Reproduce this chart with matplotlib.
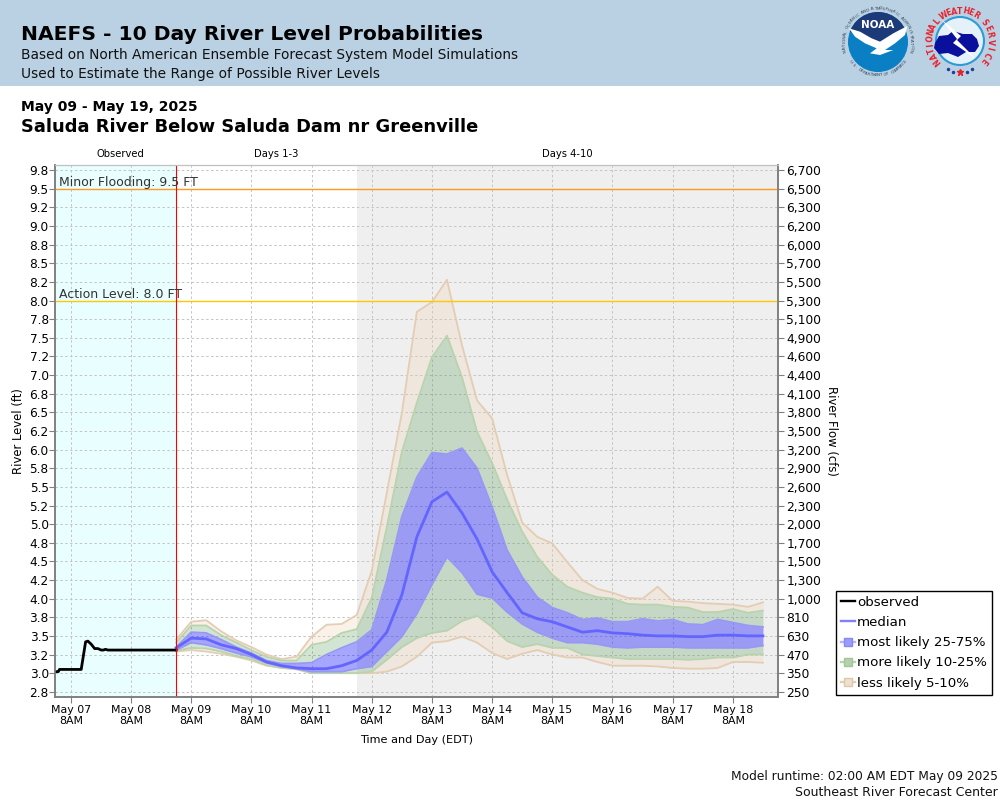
import numpy as np
from matplotlib import pyplot as plt
from matplotlib.lines import Line2D
from matplotlib.patches import Circle, Polygon, Rectangle

# hours after May 07 8AM
obs_hours = [-6.1, -5, -4.5, 4.15, 5.9, 6.8, 8.1, 9.5, 10.8, 12.1, 13, 13.8, 14.8, 42]
obs_level = [3.02, 3.02, 3.05, 3.05, 3.42, 3.43, 3.39, 3.33, 3.33, 3.31, 3.31, 3.32, 3.31, 3.31]

fc_hours = list(range(42, 277, 6))
p95 = [3.45, 3.69, 3.71, 3.56, 3.44, 3.35, 3.25, 3.19, 3.22, 3.49, 3.65, 3.66, 3.78, 4.37, 5.42, 6.49, 7.85, 7.98, 8.28, 7.40,
       6.66, 6.42, 5.66, 5.02, 4.83, 4.74, 4.49, 4.25, 4.13, 4.08, 4.01, 4.00, 4.16, 3.97, 3.96, 3.94, 3.93, 3.92, 3.89, 3.95]
p90 = [3.41, 3.64, 3.64, 3.51, 3.41, 3.31, 3.22, 3.17, 3.17, 3.38, 3.42, 3.54, 3.59, 4.01, 4.96, 5.97, 6.63, 7.24, 7.53, 6.97,
       6.24, 5.82, 5.33, 4.90, 4.56, 4.32, 4.16, 4.08, 4.02, 4.00, 3.93, 3.92, 3.92, 3.89, 3.88, 3.82, 3.82, 3.86, 3.81, 3.84]
p75 = [3.35, 3.55, 3.54, 3.45, 3.35, 3.27, 3.17, 3.13, 3.13, 3.14, 3.25, 3.34, 3.42, 3.58, 4.25, 5.10, 5.63, 5.96, 5.94, 6.02,
       5.75, 5.23, 4.65, 4.29, 4.02, 3.88, 3.81, 3.72, 3.74, 3.69, 3.69, 3.73, 3.70, 3.72, 3.66, 3.65, 3.72, 3.68, 3.64, 3.62]
median = [3.34, 3.47, 3.46, 3.38, 3.33, 3.25, 3.15, 3.10, 3.07, 3.06, 3.06, 3.10, 3.17, 3.31, 3.55, 4.05, 4.83, 5.30, 5.43, 5.15,
          4.80, 4.36, 4.08, 3.81, 3.73, 3.69, 3.62, 3.55, 3.57, 3.54, 3.53, 3.51, 3.50, 3.50, 3.49, 3.49, 3.51, 3.51, 3.50, 3.50]
p25 = [3.31, 3.41, 3.38, 3.33, 3.27, 3.22, 3.14, 3.09, 3.06, 3.02, 3.02, 3.02, 3.06, 3.09, 3.29, 3.49, 3.80, 4.19, 4.56, 4.35,
       4.06, 4.01, 3.82, 3.66, 3.55, 3.47, 3.41, 3.41, 3.39, 3.35, 3.34, 3.35, 3.35, 3.35, 3.34, 3.34, 3.34, 3.34, 3.34, 3.37]
p10 = [3.30, 3.34, 3.33, 3.29, 3.23, 3.19, 3.11, 3.07, 3.06, 3.00, 3.00, 3.00, 3.00, 3.02, 3.18, 3.35, 3.47, 3.54, 3.57, 3.70,
       3.77, 3.62, 3.43, 3.35, 3.39, 3.34, 3.34, 3.25, 3.23, 3.21, 3.19, 3.19, 3.19, 3.19, 3.18, 3.19, 3.21, 3.21, 3.25, 3.25]
p5 = [3.29, 3.31, 3.29, 3.26, 3.22, 3.17, 3.10, 3.07, 3.05, 3.00, 3.00, 3.00, 3.00, 3.00, 3.02, 3.09, 3.22, 3.41, 3.43, 3.49,
      3.41, 3.27, 3.19, 3.26, 3.31, 3.25, 3.21, 3.21, 3.15, 3.10, 3.10, 3.10, 3.09, 3.07, 3.06, 3.06, 3.07, 3.15, 3.15, 3.14]

level_ticks = [2.75, 3.0, 3.25, 3.5, 3.75, 4.0, 4.25, 4.5, 4.75, 5.0, 5.25, 5.5, 5.75, 6.0, 6.25, 6.5, 6.75, 7.0, 7.25, 7.5,
               7.75, 8.0, 8.25, 8.5, 8.75, 9.0, 9.25, 9.5, 9.75]
level_labels = ["2.8", "3.0", "3.2", "3.5", "3.8", "4.0", "4.2", "4.5", "4.8", "5.0", "5.2", "5.5", "5.8", "6.0", "6.2", "6.5",
                "6.8", "7.0", "7.2", "7.5", "7.8", "8.0", "8.2", "8.5", "8.8", "9.0", "9.2", "9.5", "9.8"]
flow_labels = ["250", "350", "470", "630", "810", "1,000", "1,300", "1,500", "1,700", "2,000", "2,300", "2,600", "2,900",
               "3,200", "3,500", "3,800", "4,100", "4,400", "4,600", "4,900", "5,100", "5,300", "5,500", "5,700", "6,000",
               "6,200", "6,300", "6,500", "6,700"]
day_hours = [0, 24, 48, 72, 96, 120, 144, 168, 192, 216, 240, 264]
day_labels = ["May 07\n8AM", "May 08\n8AM", "May 09\n8AM", "May 10\n8AM", "May 11\n8AM", "May 12\n8AM",
              "May 13\n8AM", "May 14\n8AM", "May 15\n8AM", "May 16\n8AM", "May 17\n8AM", "May 18\n8AM"]

BLUE = "#0000ff"
GREEN = "#207f20"
TAN = "#efcfab"
EDGE_BLUE = "#9898f4"
EDGE_GREEN = "#b9d3ae"
EDGE_TAN = "#e3cdb3"

fig = plt.figure(figsize=(10, 8), dpi=100)

# chart
ax = fig.add_axes([0.055, 1 - 697 / 800, 0.723, 532 / 800])
ax.set_xlim(-6.3, 282)
ax.set_ylim(2.68, 9.82)
ax.axvspan(-6.3, 42, color="#e9ffff", lw=0, zorder=0)
ax.axvspan(114, 282, color="#efefef", lw=0, zorder=0)
ax.grid(True, color="#c4c4c4", ls=(0, (2.5, 2.5)), lw=0.7, zorder=1)
ax.set_axisbelow(True)

ax.fill_between(fc_hours, p90, p95, color=TAN, alpha=0.25, lw=0, zorder=2)
ax.fill_between(fc_hours, p5, p10, color=TAN, alpha=0.25, lw=0, zorder=2)
ax.fill_between(fc_hours, p75, p90, color=GREEN, alpha=0.2, lw=0, zorder=2)
ax.fill_between(fc_hours, p10, p25, color=GREEN, alpha=0.2, lw=0, zorder=2)
ax.fill_between(fc_hours, p25, p75, color=BLUE, alpha=0.35, lw=0, zorder=2)
for band, col in [(p95, EDGE_TAN), (p5, EDGE_TAN), (p90, EDGE_GREEN), (p10, EDGE_GREEN), (p75, EDGE_BLUE), (p25, EDGE_BLUE)]:
    ax.plot(fc_hours, band, color=col, lw=1.3, zorder=3)
ax.plot(fc_hours, median, color="#6464ff", lw=2.0, zorder=4)
ax.plot(obs_hours, obs_level, color="black", lw=2.0, zorder=5)

ax.axhline(9.5, color="#ff9a1f", lw=1.0, zorder=3)
ax.axhline(8.0, color="#ffc800", lw=1.0, zorder=3)
ax.axvline(42, color="#ff0000", lw=0.8, zorder=6)
ax.text(-4.8, 9.5, "Minor Flooding: 9.5 FT", fontsize=9, color="#333333", va="bottom", zorder=7)
ax.text(-4.8, 8.0, "Action Level: 8.0 FT", fontsize=9, color="#333333", va="bottom", zorder=7)

ax.set_xticks(day_hours)
ax.set_xticklabels(day_labels, fontsize=7.9, linespacing=1.15)
ax.set_yticks(level_ticks)
ax.set_yticklabels(level_labels, fontsize=8.7)
ax.tick_params(axis="y", length=4, width=0.8, color="#808080", pad=0.5)
ax.tick_params(axis="x", length=4, width=0.8, color="#808080", pad=1.5)
ax.set_xlabel("Time and Day (EDT)", fontsize=8.1, labelpad=6.5)
ax.set_ylabel("River Level (ft)", fontsize=8.4, labelpad=3)

ax2 = ax.twinx()
ax2.set_ylim(2.68, 9.82)
ax2.set_yticks(level_ticks)
ax2.set_yticklabels(flow_labels, fontsize=8.8)
ax2.tick_params(axis="y", length=4, width=0.8, color="#808080", pad=2)
ax2.set_ylabel("River Flow (cfs)", fontsize=8.4, rotation=-90, labelpad=12)

for a in [ax, ax2]:
    a.spines["left"].set_color("#808080")
    a.spines["bottom"].set_color("#808080")
    a.spines["right"].set_color("#808080")
    a.spines["top"].set_color("#c0c0c0")
    a.spines["left"].set_linewidth(1.2)
    a.spines["bottom"].set_linewidth(1.2)
    a.spines["right"].set_linewidth(1.2)

handles = [
    Line2D([], [], color="black", lw=1.7),
    Line2D([], [], color="#8080ff", lw=1.7),
    Line2D([], [], color="#b4b4ff", lw=1.7, marker="s", ms=6, mfc="#9a9cff", mec="#8888ee"),
    Line2D([], [], color="#b9d3ae", lw=1.7, marker="s", ms=6, mfc="#b4d2aa", mec="#a4c49a"),
    Line2D([], [], color="#e3cdb3", lw=1.7, marker="s", ms=6, mfc="#eee0cf", mec="#dcc8ac"),
]
names = ["observed", "median", "most likely 25-75%", "more likely 10-25%", "less likely 5-10%"]
leg = fig.legend(handles, names, loc="lower left", bbox_to_anchor=(0.8355, 1 - 695 / 800), fontsize=9.6, fancybox=False,
                 framealpha=1, edgecolor="black", borderpad=0.4, labelspacing=0.54, handlelength=1.05, handletextpad=0.15,
                 borderaxespad=0)
leg.get_frame().set_linewidth(1.0)

# header and page text, in pixels
page = fig.add_axes([0, 0, 1, 1], zorder=-1)
page.set_xlim(0, 1000)
page.set_ylim(800, 0)
page.axis("off")
page.add_patch(Rectangle((0, 0), 1000, 86, color="#bad1e4", lw=0))
page.text(21, 40, "NAEFS - 10 Day River Level Probabilities", fontsize=14.55, fontweight="bold")
page.text(21, 59, "Based on North American Ensemble Forecast System Model Simulations", fontsize=9.9, color="#111111")
page.text(21, 78, "Used to Estimate the Range of Possible River Levels", fontsize=9.9, color="#111111")
page.text(21, 110.5, "May 09 - May 19, 2025", fontsize=10, fontweight="bold")
page.text(21, 132, "Saluda River Below Saluda Dam nr Greenville", fontsize=12.85, fontweight="bold")
page.text(120, 157, "Observed", fontsize=7.2, ha="center")
page.text(276, 157, "Days 1-3", fontsize=7.2, ha="center")
page.text(567, 157, "Days 4-10", fontsize=7.2, ha="center")
page.text(998, 780, "Model runtime: 02:00 AM EDT May 09 2025", fontsize=8.8, ha="right", color="#111111")
page.text(998, 796, "Southeast River Forecast Center", fontsize=9, ha="right", color="#111111")

# logos are drawn on a layer above the header
logo = fig.add_axes([0, 0, 1, 1], zorder=5)
logo.set_xlim(0, 1000)
logo.set_ylim(800, 0)
logo.axis("off")


def arc_text(text, cx, cy, r, start, stop, size, color, weight="normal", bottom=False):
    # letters one by one around a circle, angles in degrees
    angles = np.linspace(start, stop, len(text))
    for ch, ang in zip(text, angles):
        rad = np.deg2rad(ang)
        rot = ang + 90 if bottom else ang - 90
        logo.text(cx + r * np.cos(rad), cy - r * np.sin(rad), ch, fontsize=size, color=color, fontweight=weight,
                  rotation=rot, ha="center", va="center", rotation_mode="anchor")


# NOAA
disc = Circle((878, 42), 30, color="#0b7fc4", lw=0)
logo.add_patch(disc)
top = Polygon([(840, 5), (916, 5), (916, 27), (878, 44), (840, 27)], color="#1d3a78", lw=0)
logo.add_patch(top)
top.set_clip_path(disc)
bird = [(57, 85), (90, 95), (125, 115), (150, 125), (190, 100), (232, 78), (225, 105), (195, 130), (165, 150),
        (190, 150), (150, 165), (120, 160), (140, 145), (105, 130), (75, 110)]
logo.add_patch(Polygon([(830 + x / 3, y / 3) for x, y in bird], color="white", lw=0))
logo.text(878, 24.5, "NOAA", fontsize=7.5, color="white", fontweight="bold", ha="center", va="center")
arc_text("NATIONAL OCEANIC AND ATMOSPHERIC ADMINISTRATION", 878, 42, 33.5, 195, -15, 3, "#334455")
arc_text("U.S. DEPARTMENT OF COMMERCE", 878, 42, 33.5, 215, 325, 3, "#334455", bottom=True)

# NWS
logo.add_patch(Circle((960, 41), 24, color="#e4f1f8", ec="#2f9bd6", lw=1.5))
cloud = [(935, 43), (939, 36), (948, 35), (953, 31), (963, 34), (972, 34), (977, 39), (979, 46), (975, 52), (966, 52),
         (958, 57), (948, 53), (939, 54), (934, 48)]
logo.add_patch(Polygon(cloud, color="#0a0f9c", lw=0))
logo.add_patch(Polygon([(942, 20), (961, 36), (957, 40), (975, 58), (953, 43), (957, 39)], color="white", lw=0))
arc_text("NATIONAL", 960, 41, 30, 222, 140, 5.5, "#e8202a", weight="bold")
arc_text("WEATHER", 960, 41, 30, 122, 58, 5.5, "#e8202a", weight="bold")
arc_text("SERVICE", 960, 41, 30, 38, -40, 5.5, "#e8202a", weight="bold")
logo.plot([948, 953, 967, 972], [69, 71.5, 71.5, 69], ls="none", marker="o", ms=1.5, color="#2040a0")
logo.plot([960], [72], ls="none", marker="*", ms=4.5, color="#e8202a")

fig.savefig("out.png", dpi=100)
